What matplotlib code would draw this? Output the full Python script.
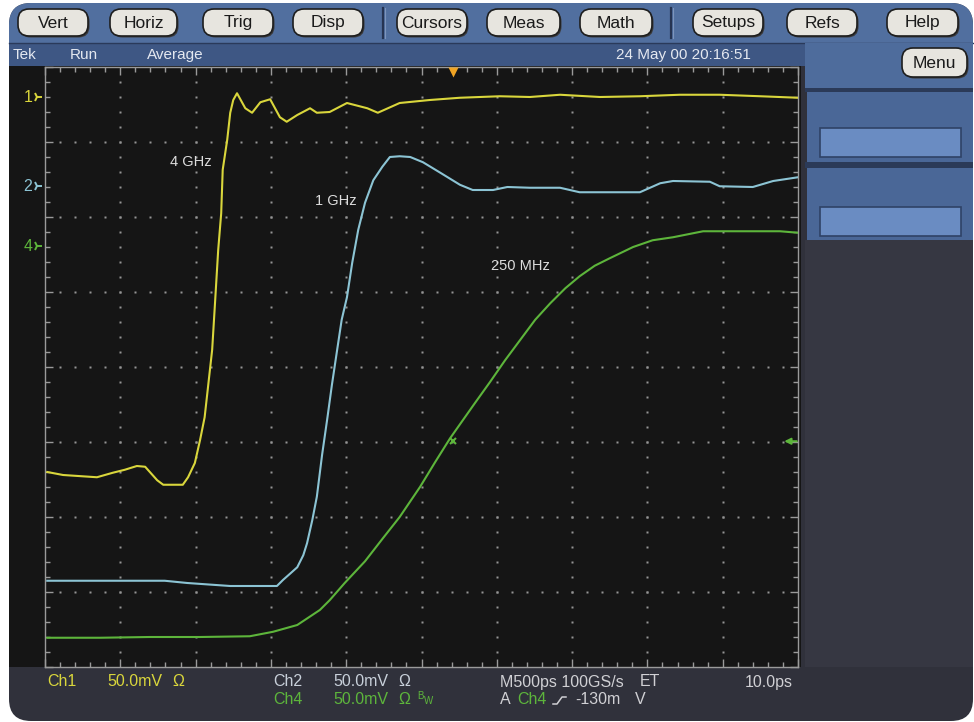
import matplotlib
matplotlib.use('Agg')
import matplotlib.pyplot as plt
import numpy as np
from matplotlib.patches import FancyBboxPatch, Rectangle

# screen is 10 x 8 divisions, 500 ps/div, 50 mV/div
ch1_x = [0.03, 0.24, 0.69, 0.90, 1.06, 1.22, 1.33, 1.49, 1.57, 1.83, 1.90, 1.99, 2.06, 2.12,
         2.16, 2.22, 2.26, 2.30, 2.34, 2.36, 2.42, 2.46, 2.50, 2.55, 2.66, 2.75, 2.86, 2.99,
         3.12, 3.21, 3.35, 3.52, 3.61, 3.78, 4.01, 4.28, 4.42, 4.71, 5.11, 5.51, 6.04, 6.44,
         6.84, 7.37, 7.90, 8.43, 8.96, 9.50, 10.0]
ch1_y = [2.60, 2.56, 2.53, 2.59, 2.63, 2.68, 2.67, 2.49, 2.43, 2.43, 2.53, 2.72, 3.03, 3.33,
         3.69, 4.23, 4.89, 5.56, 6.05, 6.63, 7.03, 7.39, 7.56, 7.65, 7.45, 7.39, 7.53, 7.57,
         7.33, 7.27, 7.36, 7.45, 7.39, 7.40, 7.52, 7.45, 7.39, 7.52, 7.56, 7.59, 7.61, 7.60,
         7.63, 7.60, 7.61, 7.63, 7.63, 7.61, 7.59]

ch2_x = [0.03, 0.73, 1.59, 1.89, 2.46, 3.08, 3.16, 3.25, 3.35, 3.43, 3.48, 3.55, 3.61, 3.68,
         3.75, 3.81, 3.88, 3.94, 4.01, 4.08, 4.16, 4.25, 4.36, 4.48, 4.58, 4.71, 4.85, 5.02,
         5.25, 5.51, 5.68, 5.95, 6.14, 6.44, 6.84, 7.10, 7.90, 8.17, 8.34, 8.83, 8.96, 9.40,
         9.67, 10.0]
ch2_y = [1.15, 1.15, 1.15, 1.12, 1.08, 1.08, 1.16, 1.24, 1.33, 1.49, 1.65, 1.96, 2.27, 2.83,
         3.32, 3.76, 4.23, 4.63, 4.93, 5.39, 5.83, 6.19, 6.49, 6.67, 6.80, 6.81, 6.80, 6.73,
         6.59, 6.43, 6.36, 6.36, 6.40, 6.39, 6.39, 6.33, 6.33, 6.45, 6.48, 6.47, 6.41, 6.40,
         6.48, 6.53]

ch4_x = [0.03, 0.73, 1.39, 2.06, 2.72, 3.03, 3.35, 3.65, 3.78, 3.98, 4.25, 4.49, 4.71, 4.98,
         5.18, 5.38, 5.71, 5.91, 6.11, 6.31, 6.51, 6.71, 6.91, 7.10, 7.30, 7.50, 7.81, 8.07,
         8.34, 8.74, 9.23, 9.76, 10.0]
ch4_y = [0.39, 0.39, 0.40, 0.40, 0.41, 0.47, 0.56, 0.76, 0.89, 1.12, 1.41, 1.72, 2.00, 2.40,
         2.73, 3.05, 3.52, 3.80, 4.09, 4.36, 4.63, 4.85, 5.05, 5.21, 5.35, 5.45, 5.60, 5.69,
         5.73, 5.81, 5.81, 5.81, 5.79]

ch_levels = {'1': 7.60, '2': 6.41, '4': 5.61}
trig_level = 3.01
trig_pos = 5.42

trace_names = ['4 GHz', '1 GHz', '250 MHz']
trace_label_pos = [(1.93, 6.73), (3.86, 6.21), (6.32, 5.35)]

buttons = ['Vert', 'Horiz', 'Trig', 'Disp', 'Cursors', 'Meas', 'Math', 'Setups', 'Refs', 'Help']
button_x = [18, 110, 203, 293, 397, 487, 580, 693, 787, 887]
button_w = [70, 67, 70, 70, 70, 73, 72, 70, 70, 71]

YEL = '#d9d63c'
CYA = '#8cc4d4'
GRN = '#5db53b'
TXT = '#dcdcdc'
FONT = ['Liberation Sans Narrow', 'Liberation Sans', 'DejaVu Sans']

fig = plt.figure(figsize=(9.74, 7.22), dpi=100)
fig.patch.set_facecolor('white')

# ---- instrument chrome, in pixel coordinates ----
bg = fig.add_axes([0, 0, 1, 1])
bg.set_xlim(0, 974)
bg.set_ylim(722, 0)
bg.axis('off')

def box(x0, y0, x1, y1, color, r=0, z=1, ec='none', lw=0):
    if r > 0:
        p = FancyBboxPatch((x0, y0), x1 - x0, y1 - y0,
                           boxstyle='round,pad=0,rounding_size=%g' % r,
                           fc=color, ec=ec, lw=lw, zorder=z)
    else:
        p = Rectangle((x0, y0), x1 - x0, y1 - y0, fc=color, ec=ec, lw=lw, zorder=z)
    bg.add_patch(p)

box(9, 3, 973, 721, '#30313b', r=22, z=1)
box(9, 3, 973, 60, '#516f9f', r=22, z=2)
box(9, 30, 973, 66, '#516f9f', z=2)
box(9, 43, 805, 66, '#3e5784', z=3)
bg.plot([9, 973], [43, 43], color='#2a3a5a', lw=1, zorder=3)
box(9, 66, 801, 667, '#151515', z=3)

# right side panel
box(805, 43, 973, 88, '#4e6c9c', z=3)
box(805, 88, 973, 92, '#2b3a58', z=3)
box(807, 92, 973, 162, '#4a6797', z=3)
box(805, 162, 973, 168, '#2b3a58', z=3)
box(807, 168, 973, 240, '#4a6797', z=3)
box(805, 240, 973, 667, '#363742', z=3)
for y0 in (128, 207):
    box(820, y0, 961, y0 + 29, '#6a8cc2', z=4, ec='#2f4266', lw=1.2)

# buttons
for name, x0, w in zip(buttons, button_x, button_w):
    box(x0 + 1.5, 10.5, x0 + w + 1.5, 37.5, '#3a3a3a', r=11, z=5)
    box(x0, 9, x0 + w, 36, '#e7e5df', r=11, z=5, ec='#1e1e1e', lw=1.2)
    bg.text(x0 + w / 2, 23, name, ha='center', va='center', fontsize=12.5,
            family=FONT, color='#1a1a1a', zorder=6)
box(903.5, 49.5, 968.5, 78.5, '#3a3a3a', r=11, z=5)
box(902, 48, 967, 77, '#e7e5df', r=11, z=5, ec='#1e1e1e', lw=1.2)
bg.text(934.5, 63, 'Menu', ha='center', va='center', fontsize=12.5,
        family=FONT, color='#1a1a1a', zorder=6)
for sx in (383, 671):
    bg.plot([sx, sx], [8, 38], color='#263452', lw=1.6, zorder=5)
    bg.plot([sx + 2, sx + 2], [8, 38], color='#7d95bd', lw=0.8, zorder=5)

# status line
for s, x in [('Tek', 13), ('Run', 70), ('Average', 147)]:
    bg.text(x, 55, s, ha='left', va='center', fontsize=11, family=FONT,
            color='#e4e8f0', zorder=6)
bg.text(683, 55, '24 May 00 20:16:51', ha='center', va='center', fontsize=11,
        family=FONT, color='#e4e8f0', zorder=6)

# channel readouts
row1, row2 = 682, 700
readouts = [(47, row1, 'Ch1', YEL), (107, row1, '50.0mV', YEL), (172, row1, 'Ω', YEL),
            (273, row1, 'Ch2', '#c8d0da'), (333, row1, '50.0mV', '#c8d0da'), (398, row1, 'Ω', '#c8d0da'),
            (273, row2, 'Ch4', GRN), (333, row2, '50.0mV', GRN), (398, row2, 'Ω', GRN),
            (500, row1, 'M500ps 100GS/s', '#d0d0d4'), (640, row1, 'ET', '#d0d0d4'),
            (745, row1, '10.0ps', '#d0d0d4'),
            (500, row2, 'A', '#d0d0d4'), (517, row2, 'Ch4', GRN),
            (575, row2, '-130m', '#d0d0d4'), (635, row2, 'V', '#d0d0d4')]
for x, y, s, c in readouts:
    bg.text(x, y, s, ha='left', va='center', fontsize=11.5, family=FONT, color=c, zorder=6)
bg.text(417, row2 - 4, 'B', ha='left', va='center', fontsize=7, family=FONT, color=GRN, zorder=6)
bg.text(424, row2 + 1, 'W', ha='left', va='center', fontsize=7, family=FONT, color=GRN, zorder=6)
bg.plot([553, 557, 562, 566], [704, 704, 697, 697], color='#d0d0d4', lw=1.1, zorder=6)

# ---- graticule and traces ----
ax = fig.add_axes([45 / 974, 55 / 722, 753 / 974, 600 / 722])
ax.set_xlim(0, 10)
ax.set_ylim(0, 8)
ax.patch.set_alpha(0)
for sp in ax.spines.values():
    sp.set_color('#9a9a9a')
    sp.set_linewidth(1.0)
ax.set_xticks(np.arange(0, 10.01, 1))
ax.set_yticks(np.arange(0, 8.01, 1))
ax.set_xticks(np.arange(0, 10.01, 0.2), minor=True)
ax.set_yticks(np.arange(0, 8.01, 0.2), minor=True)
ax.tick_params(which='both', direction='in', top=True, right=True, color='#9a9a9a',
               labelbottom=False, labelleft=False)
ax.tick_params(which='major', length=6, width=1)
ax.tick_params(which='minor', length=3.5, width=1)

fine = np.arange(0.2, 10, 0.2)
for k in range(1, 10):
    ax.plot(np.full(39, k), np.arange(0.2, 7.9, 0.2), ls='none', marker='s', ms=1.5,
            mec='none', mfc='#959595', zorder=1)
for k in range(1, 8):
    ax.plot(fine, np.full(len(fine), k), ls='none', marker='s', ms=1.5,
            mec='none', mfc='#959595', zorder=1)

ax.plot(ch1_x, ch1_y, color=YEL, lw=1.5, zorder=3)
ax.plot(ch2_x, ch2_y, color=CYA, lw=1.5, zorder=3)
ax.plot(ch4_x, ch4_y, color=GRN, lw=1.5, zorder=3)

for name, (x, y) in zip(trace_names, trace_label_pos):
    ax.text(x, y, name, ha='center', va='center', fontsize=10.5, family=FONT, color=TXT, zorder=4)

for (ch, lvl), c in zip(ch_levels.items(), [YEL, CYA, GRN]):
    ax.text(-0.17, lvl, ch, ha='right', va='center', fontsize=11.5, family=FONT,
            color=c, clip_on=False)
    ax.plot(-0.1, lvl, marker='4', ms=7, color=c, mew=1.4, clip_on=False)

# trigger markers
ax.plot(trig_pos, 7.93, marker='v', ms=7, color='#f0a424', mec='none', clip_on=False, zorder=5)
ax.annotate('', xy=(9.78, trig_level), xytext=(10.02, trig_level),
            arrowprops=dict(arrowstyle='-|>', color=GRN, lw=1.5, mutation_scale=9),
            annotation_clip=False)
ax.plot(trig_pos, trig_level, marker='x', ms=5, color=GRN, mew=1.5, zorder=4)

fig.savefig('out.png', dpi=100, facecolor='white')
